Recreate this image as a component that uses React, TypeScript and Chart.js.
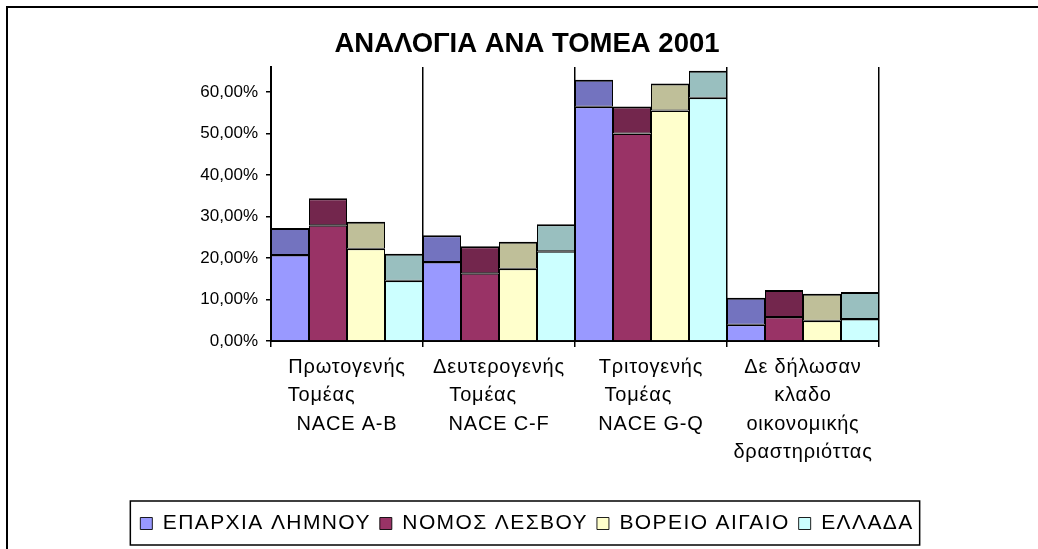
import React, { useEffect, useRef } from 'react';
import { Chart, registerables } from 'chart.js';

Chart.register(...registerables);

// ---- data ----
const titleText = 'ΑΝΑΛΟΓΙΑ ΑΝΑ ΤΟΜΕΑ 2001';
const categories: string[][] = [
  ['Πρωτογενής', 'Τομέας        ', 'NACE A-B'],
  ['Δευτερογενής', 'Τομέας     ', 'NACE C-F'],
  ['Τριτογενής', 'Τομέας    ', 'NACE G-Q'],
  ['Δε δήλωσαν', 'κλαδο', 'οικονομικής', 'δραστηριόττας'],
];
const seriesNames = ['ΕΠΑΡΧΙΑ ΛΗΜΝΟΥ', 'ΝΟΜΟΣ ΛΕΣΒΟΥ', 'ΒΟΡΕΙΟ ΑΙΓΑΙΟ', 'ΕΛΛΑΔΑ'];
const eparxiaLimnou = [20.7, 19.0, 56.4, 3.9];
const nomosLesvou = [27.9, 16.3, 50.0, 5.8];
const voreioAigaio = [22.2, 17.4, 55.5, 4.9];
const ellada = [14.5, 21.6, 58.6, 5.3];
const yTickValues = [0, 10, 20, 30, 40, 50, 60];

// ---- styles ----
const frontColors = ['#9999FF', '#993366', '#FFFFCC', '#CCFFFF'];
const topColors = ['#7373BF', '#73264D', '#BFBF99', '#99BFBF'];
const TOP_FACE_DEPTH = 6.5; // visual 3D top face, in axis units
const Y_MAX = 66;
const FONT = "'Liberation Sans', Arial, sans-serif";
const LEGEND_SPACING = '1.4px';
const XLABEL_SPACING = '0.8px';

function withSpacing(obj: any, method: string, spacing: string, ctx: any) {
  if (!obj || obj['__ws_' + method]) return;
  const orig = obj[method];
  obj[method] = function (...args: any[]) {
    ctx.save();
    try { ctx.letterSpacing = spacing; } catch (e) {}
    const r = orig.apply(this, args);
    ctx.restore();
    return r;
  };
  obj['__ws_' + method] = true;
}

const framePlugin = {
  id: 'frame',
  beforeLayout(chart: any) {
    try { chart.ctx.letterSpacing = LEGEND_SPACING; } catch (e) {}
  },
  afterLayout(chart: any) {
    const ctx = chart.ctx;
    try { ctx.letterSpacing = '0px'; } catch (e) {}
    withSpacing(chart.legend, 'draw', LEGEND_SPACING, ctx);
    withSpacing(chart.scales.x, 'drawLabels', XLABEL_SPACING, ctx);
  },
  beforeDraw(chart: any) {
    const ctx = chart.ctx;
    ctx.save();
    ctx.fillStyle = '#ffffff';
    ctx.fillRect(0, 0, chart.width, chart.height);
    ctx.strokeStyle = '#000';
    ctx.lineWidth = 2;
    ctx.beginPath();
    ctx.moveTo(7, chart.height);
    ctx.lineTo(7, 7);
    ctx.lineTo(chart.width, 7);
    ctx.stroke();
    ctx.restore();
  },
  afterDraw(chart: any) {
    const lg = chart.legend;
    if (!lg || !lg.legendHitBoxes || !lg.legendHitBoxes.length) return;
    const hb = lg.legendHitBoxes;
    const first = hb[0];
    const last = hb[hb.length - 1];
    const ctx = chart.ctx;
    ctx.save();
    ctx.strokeStyle = '#000';
    ctx.lineWidth = 1.5;
    const l = first.left - 10;
    const r = last.left + last.width + 6;
    const t = first.top - 12;
    const b = first.top + first.height + 11;
    ctx.strokeRect(l, t, r - l, b - t);
    ctx.restore();
  },
};

export default function App() {
  const ref = useRef<HTMLCanvasElement | null>(null);
  useEffect(() => {
    if (!ref.current) return;
    const seriesValues = [eparxiaLimnou, nomosLesvou, voreioAigaio, ellada];
    const datasets: any[] = [];
    seriesValues.forEach((vals, i) => {
      datasets.push({
        label: seriesNames[i],
        data: vals,
        backgroundColor: frontColors[i],
        borderColor: '#000',
        borderWidth: { top: 1.5, left: 1, right: 1, bottom: 0 },
        borderSkipped: false,
        inflateAmount: 0,
        stack: 's' + i,
      });
      datasets.push({
        label: seriesNames[i] + '_top',
        data: vals.map(() => TOP_FACE_DEPTH),
        backgroundColor: topColors[i],
        borderColor: '#000',
        borderWidth: { top: 2, left: 1, right: 1, bottom: 1 },
        borderSkipped: false,
        inflateAmount: 0,
        stack: 's' + i,
      });
    });
    const chart = new Chart(ref.current, {
      type: 'bar',
      data: { labels: categories, datasets },
      plugins: [framePlugin],
      options: {
        responsive: false,
        devicePixelRatio: 1,
        animation: false,
        events: [],
        layout: { padding: { top: 8, left: 16, right: 0, bottom: 5 } },
        datasets: { bar: { categoryPercentage: 1, barPercentage: 1 } },
        plugins: {
          tooltip: { enabled: false },
          title: {
            display: true,
            text: titleText,
            color: '#000',
            font: { family: FONT, size: 27.5, weight: 'bold', lineHeight: 1.2 },
            padding: { top: 20, bottom: 6 },
          },
          legend: {
            display: true,
            position: 'bottom',
            labels: {
              color: '#000',
              font: { family: FONT, size: 21 },
              boxWidth: 12,
              boxHeight: 12,
              padding: 9,
              filter: (item: any) => item.datasetIndex % 2 === 0,
            },
          },
        },
        scales: {
          x: {
            stacked: true,
            offset: true,
            grid: {
              display: true,
              offset: true,
              drawOnChartArea: true,
              drawTicks: true,
              tickLength: 6,
              color: '#000',
              lineWidth: 1.5,
            },
            border: { display: true, color: '#000', width: 2 },
            ticks: {
              color: '#000',
              font: { family: FONT, size: 20, lineHeight: 1.42 },
              padding: 6,
              maxRotation: 0,
              minRotation: 0,
              autoSkip: false,
            },
            afterFit: (s: any) => {
              s.height = 163;
            },
          },
          y: {
            stacked: true,
            min: 0,
            max: Y_MAX,
            grid: { display: true, drawOnChartArea: false, drawTicks: true, tickLength: 5, color: '#000', lineWidth: 1.5 },
            border: { display: true, color: '#000', width: 2 },
            afterBuildTicks: (s: any) => {
              s.ticks = yTickValues.map((v) => ({ value: v }));
            },
            ticks: {
              color: '#000',
              font: { family: FONT, size: 17 },
              padding: 8,
              callback: (v: any) => Number(v).toFixed(2).replace('.', ',') + '%',
            },
            afterFit: (s: any) => {
              s.width = 271 - 16;
            },
          },
          yRight: {
            position: 'right',
            display: true,
            grid: { display: false },
            border: { display: false },
            ticks: { display: false },
            afterFit: (s: any) => {
              s.width = 1038 - 879;
            },
          },
        },
      } as any,
    });
    return () => chart.destroy();
  }, []);
  return (
    <div style={{ position: 'fixed', left: 0, top: 0, width: 1038, height: 549, background: '#fff', overflow: 'hidden' }}>
      <canvas ref={ref} width={1038} height={549} style={{ display: 'block' }} />
    </div>
  );
}
